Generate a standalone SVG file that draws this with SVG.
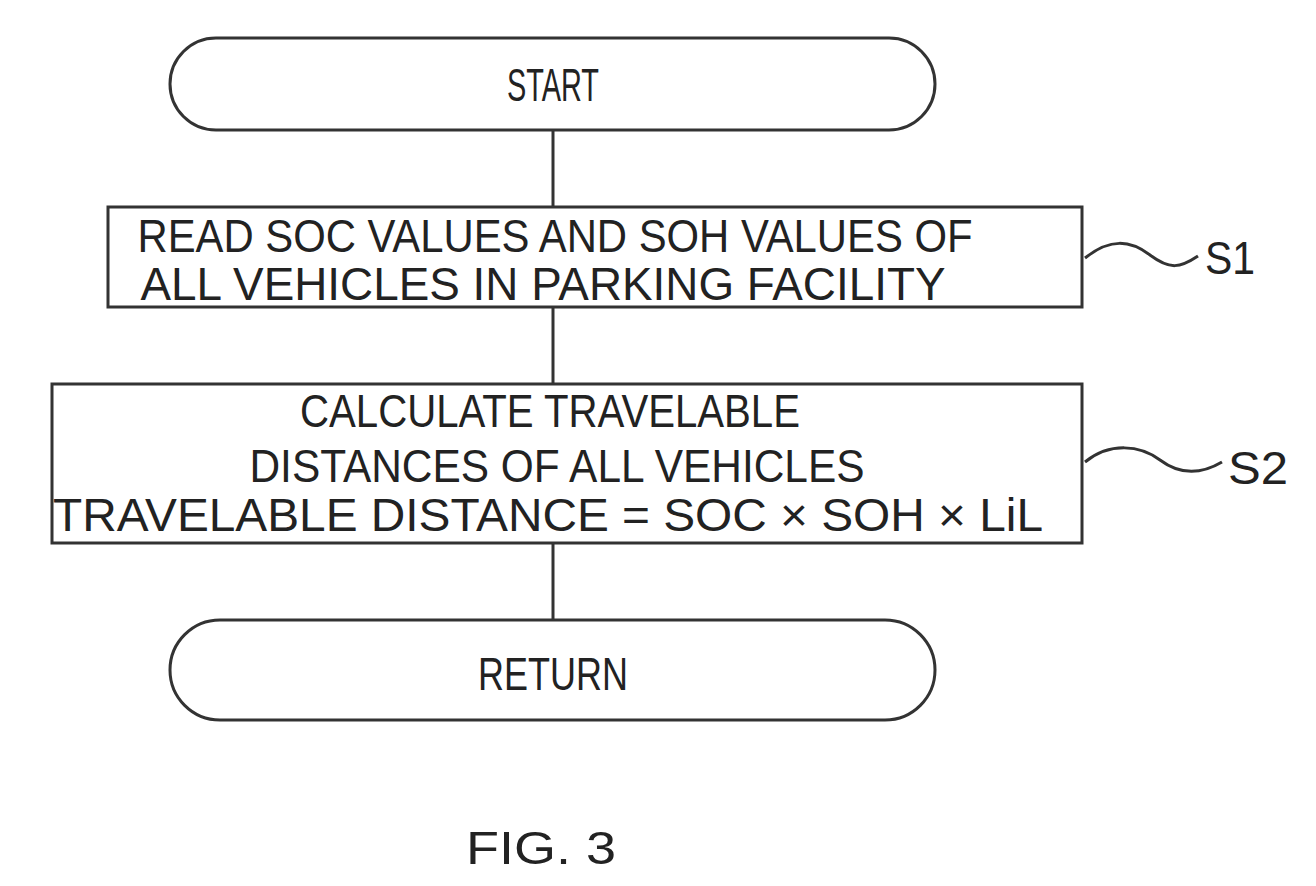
<svg xmlns="http://www.w3.org/2000/svg" width="1316" height="886" viewBox="0 0 1316 886">
<style>
.s{fill:none;stroke:#333;stroke-width:3}
.t{font-family:"Liberation Sans",Arial,sans-serif;font-size:46px;fill:#222;text-anchor:middle}
</style>
<rect width="1316" height="886" fill="#fff"/>
<g id="connectors" class="s">
<line x1="553" y1="130" x2="553" y2="207"/>
<line x1="553" y1="307" x2="553" y2="384"/>
<line x1="553" y1="543" x2="553" y2="620"/>
<path d="M1085 258 C1110 238,1130 240,1150 255 S1180 268,1198 256"/>
<path d="M1085 462 C1110 442,1140 445,1160 460 S1200 475,1222 462"/>
</g>
<g id="start"><rect class="s" x="170" y="38" width="765" height="92" rx="46"/><text class="t" x="553" y="101" textLength="92" lengthAdjust="spacingAndGlyphs">START</text></g>
<g id="s1"><rect class="s" x="108" y="207" width="974" height="100"/>
<text class="t" x="555" y="252" textLength="835" lengthAdjust="spacingAndGlyphs">READ SOC VALUES AND SOH VALUES OF</text>
<text class="t" x="543" y="300" textLength="805" lengthAdjust="spacingAndGlyphs">ALL VEHICLES IN PARKING FACILITY</text></g>
<g id="s2"><rect class="s" x="52" y="384" width="1030" height="159"/>
<text class="t" x="550" y="427" textLength="500" lengthAdjust="spacingAndGlyphs">CALCULATE TRAVELABLE</text>
<text class="t" x="557" y="482" textLength="615" lengthAdjust="spacingAndGlyphs">DISTANCES OF ALL VEHICLES</text>
<text class="t" x="548" y="531" textLength="990" lengthAdjust="spacingAndGlyphs">TRAVELABLE DISTANCE = SOC × SOH × LiL</text></g>
<g id="ret"><rect class="s" x="170" y="620" width="765" height="100" rx="50"/><text class="t" x="553" y="690" textLength="150" lengthAdjust="spacingAndGlyphs">RETURN</text></g>
<text class="t" x="1230" y="274" textLength="50" lengthAdjust="spacingAndGlyphs">S1</text>
<text class="t" x="1258" y="484" textLength="60" lengthAdjust="spacingAndGlyphs">S2</text>
<text class="t" x="541" y="864" font-size="58" textLength="150" lengthAdjust="spacingAndGlyphs">FIG. 3</text>
</svg>
